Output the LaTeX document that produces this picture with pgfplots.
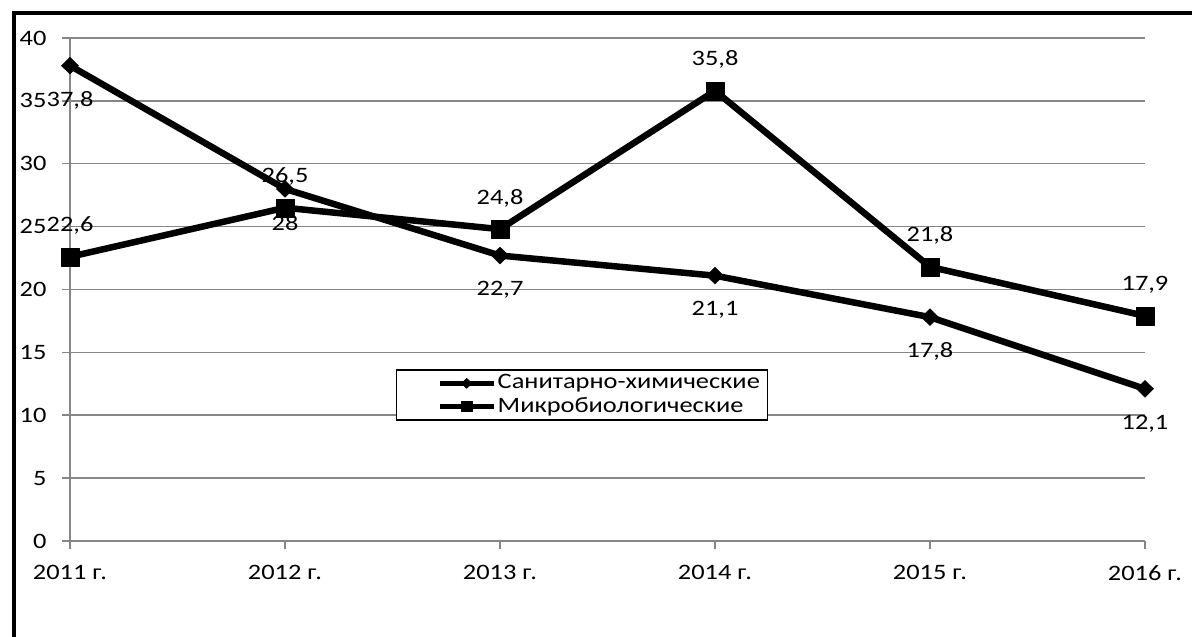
\documentclass[border=0pt]{standalone}
\usepackage{fontspec}
\setmainfont{Carlito}[FakeStretch=1.2]
\usepackage{pgfplots}
\pgfplotsset{compat=1.18}
\definecolor{axgray}{RGB}{134,134,134}

% Доля проб, не соответствующих гигиеническим нормативам, %
\pgfplotstableread{
x  y
0  37.8
1  28
2  22.7
3  21.1
4  17.8
5  12.1
}\sanchem
\pgfplotstableread{
x  y
0  22.6
1  26.5
2  24.8
3  35.8
4  21.8
5  17.9
}\microbio

\newcommand{\lblfont}{\fontsize{22pt}{26pt}\selectfont}

\begin{document}
\lblfont
\begin{tikzpicture}
\useasboundingbox (0pt,0pt) rectangle (1192pt,637pt);
% рамка области диаграммы
\draw[line width=4pt] (14pt,-10pt) -- (14pt,623.5pt) -- (1210pt,623.5pt);
\begin{axis}[
  at={(70pt,96pt)}, anchor=south west,
  width=1075pt, height=503pt, scale only axis,
  xmin=0, xmax=5, ymin=0, ymax=40,
  xtick={0,...,5},
  xticklabels={2011 г.,2012 г.,2013 г.,2014 г.,2015 г.,2016 г.},
  ytick={0,5,...,40},
  axis lines=left,
  axis line style={-, draw=axgray, line width=1.5pt},
  ymajorgrids,
  grid style={draw=axgray, line width=1.5pt},
  tick style={draw=axgray, line width=1.5pt},
  major tick length=8pt, tick align=outside,
  clip=false,
  /pgf/number format/assume math mode=true,
  /pgf/number format/use comma,
  ticklabel style={font=\lblfont},
  yticklabel style={xshift=-8pt},
  xticklabel style={yshift=-9pt},
  legend style={
    at={(axis cs:2.381,11.61)}, anchor=center,
    draw=black, line width=1.5pt, fill=white,
    inner xsep=6pt, inner ysep=3pt,
    font=\lblfont,
    nodes={inner sep=1.5pt},
    row sep=2pt,
  },
  legend cell align=left,
  legend image code/.code={
    \path (0pt,0pt);
    \draw[#1, line width=5pt, mark repeat=2, mark phase=2,
      every mark/.append style={scale=0.6}]
      plot coordinates {(34pt,0pt)(61pt,0pt)(88pt,0pt)};
  },
  nodes near coords,
  every node near coord/.append style={anchor=center, black, font=\lblfont},
]
\addplot[black, line width=6.5pt, line join=round,
  mark=diamond*, mark size=8.5pt,
  mark options={solid, line width=0.4pt, xscale=1.35},
  every node near coord/.append style={yshift=-34.5pt}]
  table {\sanchem};
\addlegendentry{Санитарно-химические}
\addplot[black, line width=6.5pt, line join=round,
  mark=square*, mark size=9pt,
  mark options={solid, line width=0.4pt},
  every node near coord/.append style={yshift=31pt}]
  table {\microbio};
\addlegendentry{Микробиологические}
\end{axis}
\end{tikzpicture}
\end{document}
